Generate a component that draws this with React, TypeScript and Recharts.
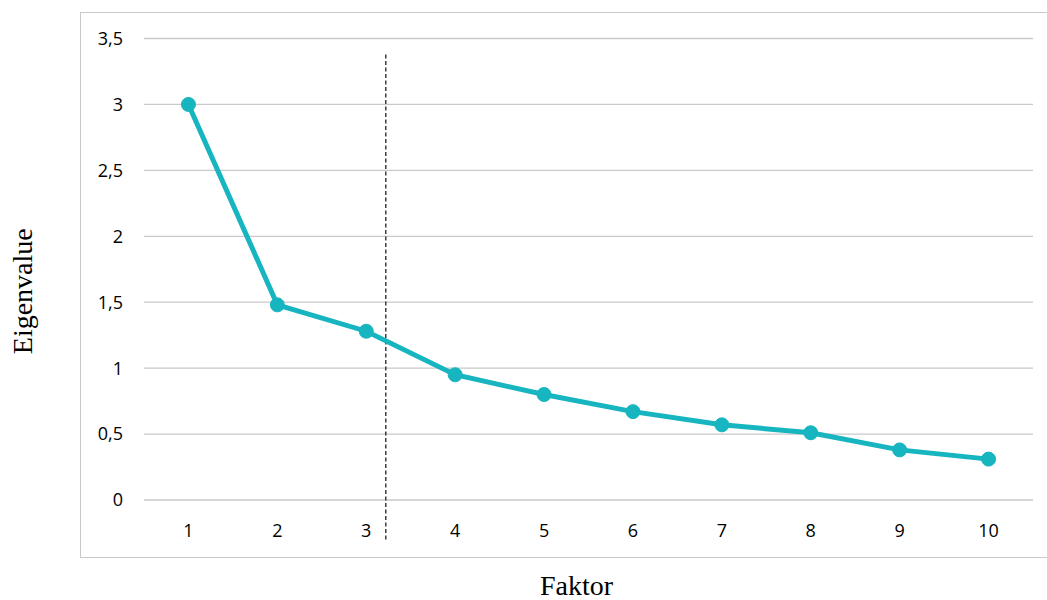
import React from 'react';
import {
  LineChart,
  Line,
  XAxis,
  YAxis,
  CartesianGrid,
  ReferenceLine,
  Label,
} from 'recharts';

// Factor numbers and their eigenvalues (scree plot)
const factors = [1, 2, 3, 4, 5, 6, 7, 8, 9, 10];
const eigenvalues = [3.0, 1.48, 1.28, 0.95, 0.8, 0.67, 0.57, 0.51, 0.38, 0.31];
const yTicks = [0, 0.5, 1, 1.5, 2, 2.5, 3, 3.5];
// Cut-off marker between factor 3 and 4
const cutoff = 3.22;
const cutoffRange = [-0.3, 3.39];

const data = factors.map((f, i) => ({ factor: f, value: eigenvalues[i] }));

const TEAL = '#17b5bf';
const GRID = '#c9c9c9';
const TICK_FAMILY = '"Open Sans", sans-serif';
const TITLE_FONT = '"Liberation Serif", "Times New Roman", serif';

const App = () => {
  // y axis title, rotated, left of the tick labels
  const renderYTitle = (props: any) => {
    const { viewBox } = props;
    const x = viewBox.x + 32;
    const y = viewBox.y + viewBox.height / 2 + 22;
    return (
      <text
        x={x}
        y={y}
        transform={`rotate(-90, ${x}, ${y})`}
        textAnchor="middle"
        fontFamily={TITLE_FONT}
        fontSize={28}
        fill="#000"
      >
        Eigenvalue
      </text>
    );
  };

  return (
    <div
      style={{
        position: 'absolute',
        left: 0,
        top: 0,
        width: 1047,
        height: 600,
        overflow: 'hidden',
        background: '#fff',
      }}
    >
      {/* frame around the plot */}
      <div
        style={{
          position: 'absolute',
          left: 80,
          top: 12,
          width: 990,
          height: 544,
          border: `1.5px solid ${GRID}`,
        }}
      />
      <div style={{ position: 'absolute', left: 0, top: 0 }}>
        <LineChart
          width={1047}
          height={600}
          data={data}
          margin={{ top: 38.5, right: 14, bottom: 0, left: 0 }}
        >
          <CartesianGrid vertical={false} stroke={GRID} strokeWidth={1.3} />
          <XAxis
            dataKey="factor"
            type="number"
            domain={[0.5, 10.5]}
            ticks={factors}
            axisLine={false}
            tickLine={false}
            tickSize={0}
            tickMargin={24}
            height={100}
            fontSize={18}
            fontFamily={TICK_FAMILY}
            tick={{ fill: '#000', fontSize: 18, fontFamily: TICK_FAMILY }}
          >
            <Label
              value="Faktor"
              position="insideBottom"
              offset={5}
              dx={-12}
              style={{ fontFamily: TITLE_FONT, fontSize: 28, fill: '#000' }}
            />
          </XAxis>
          <YAxis
            domain={[0, 3.5]}
            ticks={yTicks}
            axisLine={false}
            tickLine={false}
            tickSize={0}
            tickMargin={21}
            width={144}
            fontSize={18}
            fontFamily={TICK_FAMILY}
            tick={{ fill: '#000', fontSize: 18, fontFamily: TICK_FAMILY }}
            tickFormatter={(v: number) => String(v).replace('.', ',')}
          >
            <Label content={renderYTitle} />
          </YAxis>
          <ReferenceLine
            segment={[
              { x: cutoff, y: cutoffRange[0] },
              { x: cutoff, y: cutoffRange[1] },
            ]}
            stroke="#222"
            strokeWidth={1.3}
            strokeDasharray="4 2.5"
            ifOverflow="visible"
          />
          <Line
            type="linear"
            dataKey="value"
            stroke={TEAL}
            strokeWidth={5}
            dot={{ r: 7, fill: TEAL, stroke: TEAL, strokeWidth: 1 }}
            activeDot={false}
            isAnimationActive={false}
          />
        </LineChart>
      </div>
    </div>
  );
};

export default App;
